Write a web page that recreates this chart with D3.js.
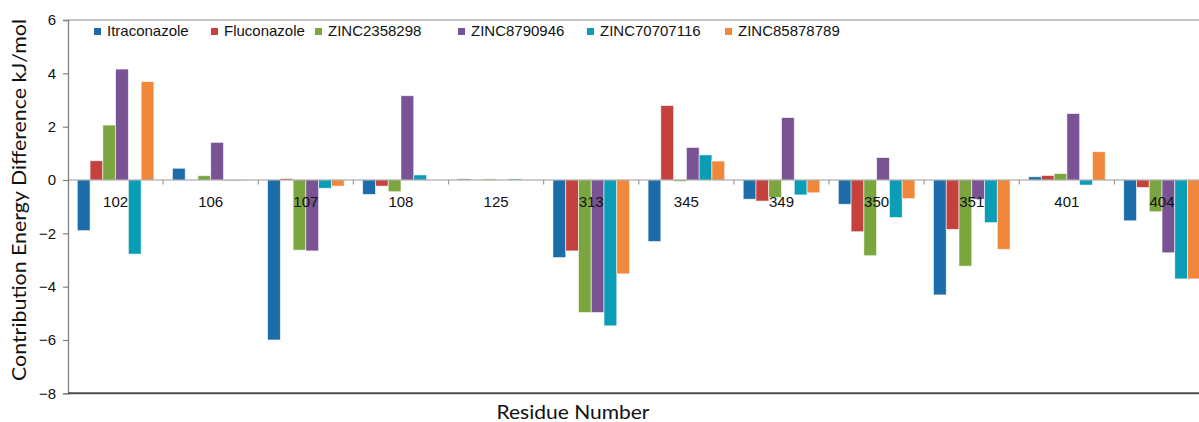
<!DOCTYPE html>
<html>
<head>
<meta charset="utf-8">
<script src="https://d3js.org/d3.v7.min.js"></script>
<style>
  html, body { margin: 0; padding: 0; background: #fff; }
  svg { display: block; }
</style>
</head>
<body>
<svg id="chart" width="1199" height="422"></svg>
<script>
const residues = ["102", "106", "107", "108", "125", "313", "345", "349", "350", "351", "401", "404"];
const seriesNames = ["Itraconazole", "Fluconazole", "ZINC2358298", "ZINC8790946", "ZINC70707116", "ZINC85878789"];
const itraconazole = [-1.90, 0.44, -6.00, -0.54, 0.04, -2.91, -2.31, -0.72, -0.91, -4.31, 0.12, -1.53];
const fluconazole  = [0.72, 0.00, 0.05, -0.23, 0.00, -2.66, 2.79, -0.79, -1.94, -1.85, 0.17, -0.28];
const zinc2358298  = [2.06, 0.16, -2.63, -0.44, 0.04, -4.97, -0.05, -0.66, -2.84, -3.23, 0.24, -1.19];
const zinc8790946  = [4.16, 1.41, -2.66, 3.16, 0.00, -4.97, 1.22, 2.34, 0.84, -0.72, 2.49, -2.73];
const zinc70707116 = [-2.78, -0.02, -0.31, 0.19, 0.04, -5.47, 0.94, -0.56, -1.41, -1.60, -0.19, -3.71];
const zinc85878789 = [3.69, -0.02, -0.23, 0.00, 0.00, -3.52, 0.71, -0.48, -0.70, -2.60, 1.06, -3.71];
const yTicks = [-8, -6, -4, -2, 0, 2, 4, 6];
const colors = ["#1B6CA8", "#C4413D", "#7BA63F", "#7A5394", "#0C9DB6", "#F0873A"];

(function () {
const seriesValues = [itraconazole, fluconazole, zinc2358298, zinc8790946, zinc70707116, zinc85878789];
const data = residues.map((r, i) => ({
  residue: r,
  values: seriesNames.map((s, j) => ({ key: s, value: seriesValues[j][i] }))
}));

const svg = d3.select("#chart");
const plotLeft = 68, plotTop = 20, plotBottom = 393.3;
const step = 95.13;
const plotRight = plotLeft + step * residues.length;

const x0 = d3.scaleBand().domain(residues).range([plotLeft, plotRight]).padding(0);
const x1 = d3.scaleBand().domain(seriesNames).range([9.3, 85.9]).padding(0);
const y = d3.scaleLinear().domain([-8, 6]).range([plotBottom, plotTop]);
const color = d3.scaleOrdinal().domain(seriesNames).range(colors);

// top border
svg.append("line").attr("x1", plotLeft).attr("x2", 1199).attr("y1", plotTop).attr("y2", plotTop)
  .attr("stroke", "#8a8a8a").attr("stroke-width", 1.2);

// bars
const groups = svg.append("g").selectAll("g").data(data).join("g")
  .attr("transform", d => `translate(${x0(d.residue)},0)`);
groups.selectAll("rect").data(d => d.values).join("rect")
  .attr("x", d => x1(d.key))
  .attr("width", x1.bandwidth())
  .attr("y", d => y(Math.max(0, d.value)))
  .attr("height", d => Math.abs(y(d.value) - y(0)))
  .attr("fill", d => color(d.key))
  .attr("stroke", "#ffffff")
  .attr("stroke-opacity", 0.7)
  .attr("stroke-width", 0.8);

// zero line with category ticks
svg.append("line").attr("x1", plotLeft).attr("x2", 1199).attr("y1", y(0)).attr("y2", y(0))
  .attr("stroke", "#9a9a9a").attr("stroke-width", 1.2);
svg.append("g").selectAll("line").data(residues.slice(1)).join("line")
  .attr("x1", d => x0(d)).attr("x2", d => x0(d))
  .attr("y1", y(0)).attr("y2", y(0) + 4.5)
  .attr("stroke", "#9a9a9a").attr("stroke-width", 1.2);

// category labels
svg.append("g").selectAll("text").data(residues).join("text")
  .attr("x", d => x0(d) + x0.bandwidth() / 2)
  .attr("y", y(0) + 27)
  .attr("text-anchor", "middle")
  .attr("font-family", "Liberation Sans, Arial, sans-serif")
  .attr("font-size", 15)
  .attr("fill", "#111")
  .text(d => d);

// y axis
const yAxis = d3.axisLeft(y).tickValues(yTicks).tickSize(5).tickPadding(7).tickFormat(d3.format("d"));
const ya = svg.append("g").attr("transform", `translate(${plotLeft},0)`).call(yAxis);
ya.select(".domain").attr("stroke", "#808080").attr("stroke-width", 1.3);
ya.selectAll(".tick line").attr("stroke", "#808080").attr("stroke-width", 1.2);
ya.selectAll(".tick text")
  .attr("font-family", "Liberation Sans, Arial, sans-serif")
  .attr("font-size", 15)
  .attr("fill", "#111");

// bottom line
svg.append("line").attr("x1", plotLeft).attr("x2", 1199).attr("y1", plotBottom).attr("y2", plotBottom)
  .attr("stroke", "#4a4a4a").attr("stroke-width", 2);

// legend
const legendX = [94, 211, 315, 458, 587, 725];
const legend = svg.append("g").selectAll("g").data(seriesNames).join("g")
  .attr("transform", (d, i) => `translate(${legendX[i]},28)`);
legend.append("rect").attr("width", 7).attr("height", 7).attr("fill", d => color(d));
legend.append("text").attr("x", 13).attr("y", 8.3)
  .attr("font-family", "Liberation Sans, Arial, sans-serif")
  .attr("font-size", 15)
  .attr("fill", "#111")
  .text(d => d);

// axis titles
svg.append("text")
  .attr("transform", "translate(26,200) rotate(-90)")
  .attr("text-anchor", "middle")
  .attr("font-family", "Lato, Open Sans, sans-serif")
  .attr("font-size", 19)
  .attr("textLength", 362)
  .attr("lengthAdjust", "spacingAndGlyphs")
  .attr("fill", "#111")
  .text("Contribution Energy Difference kJ/mol");

svg.append("text")
  .attr("x", 573)
  .attr("y", 419)
  .attr("text-anchor", "middle")
  .attr("font-family", "Lato, Open Sans, sans-serif")
  .attr("font-size", 20)
  .attr("textLength", 153)
  .attr("lengthAdjust", "spacingAndGlyphs")
  .attr("fill", "#111")
  .text("Residue Number");
})();
</script>
</body>
</html>
